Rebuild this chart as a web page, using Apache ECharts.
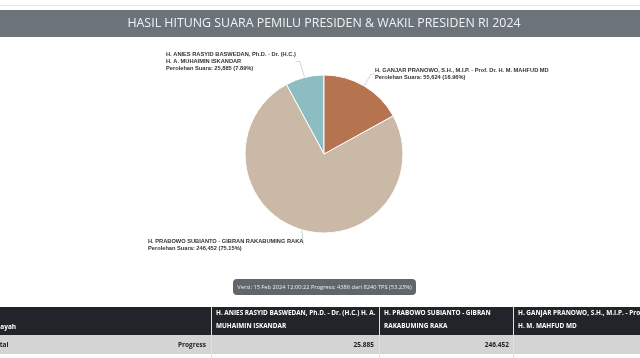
<!DOCTYPE html>
<html><head><meta charset="utf-8">
<script src="https://cdn.jsdelivr.net/npm/echarts@6/dist/echarts.min.js"></script>
<style>html,body{margin:0;padding:0;background:#fff}#c{width:640px;height:358px}</style>
</head><body><div id="c"></div>
<script>
const titleText = 'HASIL HITUNG SUARA PEMILU PRESIDEN & WAKIL PRESIDEN RI 2024';
const candidates = [
  'H. ANIES RASYID BASWEDAN, Ph.D. - Dr. (H.C.) H. A. MUHAIMIN ISKANDAR',
  'H. PRABOWO SUBIANTO - GIBRAN RAKABUMING RAKA',
  'H. GANJAR PRANOWO, S.H., M.I.P. - Prof. Dr. H. M. MAHFUD MD'
];
const pieNames = [
  'H. ANIES RASYID BASWEDAN, Ph.D. - Dr. (H.C.)\nH. A. MUHAIMIN ISKANDAR',
  'H. PRABOWO SUBIANTO - GIBRAN RAKABUMING RAKA',
  'H. GANJAR PRANOWO, S.H., M.I.P. - Prof. Dr. H. M. MAHFUD MD'
];
const headerNames = [
  'H. ANIES RASYID BASWEDAN, Ph.D. - Dr. (H.C.) H. A.\nMUHAIMIN ISKANDAR',
  'H. PRABOWO SUBIANTO - GIBRAN\nRAKABUMING RAKA',
  'H. GANJAR PRANOWO, S.H., M.I.P. - Prof. Dr.\nH. M. MAHFUD MD'
];
const votes = [25885, 246452, 55624];
const colors = ['#8dbcc3', '#c9b9a6', '#b5734f'];
const versionText = 'Versi: 15 Feb 2024 12:00:22 Progress: 4386 dari 8240 TPS (53.23%)';
const tableFirstHeader = 'Wilayah';
const tableRowLabel = 'Total';
const tableProgressLabel = 'Progress';

function fmtComma(n){return n.toString().replace(/\B(?=(\d{3})+(?!\d))/g, ',');}
function fmtDot(n){return n.toString().replace(/\B(?=(\d{3})+(?!\d))/g, '.');}

const labelPos = [
  {x:166, y:51},
  {x:148, y:238},
  {x:375, y:67}
];

const chart = echarts.init(document.getElementById('c'), null, {renderer:'canvas'});

const colX = [211, 379, 513];
const colRight = [374, 509, 663];
const graphics = [
  {type:'rect', shape:{x:0,y:5,width:640,height:1}, style:{fill:'#e3e6ea'}},
  {type:'rect', shape:{x:0,y:10,width:640,height:27}, style:{fill:'#6c747b'}},
  {type:'text', x:324, y:23.5, style:{text:titleText, fill:'#f2f2f2', font:'12.4px "Open Sans"', align:'center', verticalAlign:'middle'}},
  {type:'rect', shape:{x:233,y:279,width:183,height:16,r:4}, style:{fill:'#60666c'}},
  {type:'text', x:324.5, y:287, style:{text:versionText, fill:'#f0f0f0', font:'5.7px "Open Sans"', align:'center', verticalAlign:'middle'}},
  {type:'rect', shape:{x:0,y:307,width:640,height:28}, style:{fill:'#212529'}},
  {type:'rect', shape:{x:0,y:335,width:640,height:19}, style:{fill:'#d4d4d4'}},
  {type:'text', x:-10, y:327, style:{text:tableFirstHeader, fill:'#fff', font:'bold 6.5px "Open Sans"', verticalAlign:'middle'}},
  {type:'text', x:-8, y:345, style:{text:tableRowLabel, fill:'#222', font:'bold 6.5px "Open Sans"', verticalAlign:'middle'}},
  {type:'text', x:206, y:345, style:{text:tableProgressLabel, fill:'#222', font:'bold 6.5px "Open Sans"', align:'right', verticalAlign:'middle'}}
];
colX.forEach((x,i)=>{
  graphics.push({type:'rect', shape:{x:x,y:307,width:1,height:51}, style:{fill:'#dee2e6'}});
  graphics.push({type:'text', x:x+5, y:320, style:{text:headerNames[i], fill:'#fff', font:'bold 6.4px "Open Sans"', verticalAlign:'middle', lineHeight:13}});
  graphics.push({type:'text', x:colRight[i], y:345, style:{text:fmtDot(votes[i]), fill:'#222', font:'bold 6.5px "Open Sans"', align:'right', verticalAlign:'middle'}});
});

chart.setOption({
  animation:false,
  color: colors,
  graphic: graphics,
  series:[{
    type:'pie',
    center:[324,154],
    radius:[0,79],
    startAngle:90,
    clockwise:false,
    data: candidates.map((c,i)=>({name:pieNames[i], value:votes[i]})),
    itemStyle:{borderColor:'#fff', borderWidth:1},
    label:{
      show:true,
      position:'outside',
      color:'#333',
      fontFamily:'Arial, "Liberation Sans"',
      fontWeight:'bold',
      fontSize:5.7,
      lineHeight:7,
      formatter: p => p.name + '\nPerolehan Suara: ' + fmtComma(p.value) + ' (' + p.percent.toFixed(2) + '%)'
    },
    labelLine:{show:true, length:6, length2:4, lineStyle:{color:'#b8c4cc', width:0.7}},
    labelLayout: p => ({x: labelPos[p.dataIndex].x, y: labelPos[p.dataIndex].y, align:'left', verticalAlign:'top'}),
    emphasis:{disabled:true}
  }]
});
</script></body></html>
